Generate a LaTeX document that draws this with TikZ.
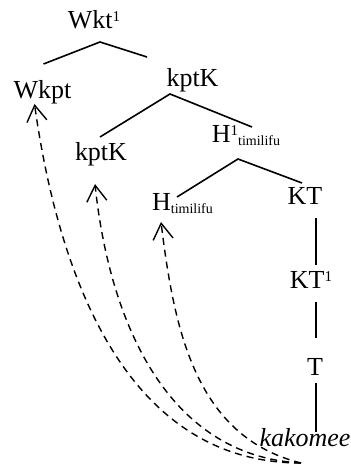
\documentclass[tikz,border=0pt]{standalone}
\usepackage{fontspec}
\setmainfont{Liberation Serif}
\usetikzlibrary{calc,arrows.meta}
\newcommand{\upidx}[1]{\raisebox{3.5pt}{\fontsize{7.5}{8}\selectfont #1}}
\newcommand{\lowidx}[1]{\raisebox{-1.5pt}{\fontsize{7}{8}\selectfont #1}}

\begin{document}
\begin{tikzpicture}[x=10pt,y=10pt,
        word/.style={anchor=base,inner sep=0pt,font=\fontsize{13}{15}\selectfont},
        branch/.style={line width=0.8pt},
        move/.style={line width=0.7pt,dash pattern=on 3.5pt off 2.5pt,-{Straight Barb[length=8pt,width=10pt]}}]
            \useasboundingbox (0,0) rectangle (17.55,23.3);
            \node[word] (wkt) at (4.7,21.85) {Wkt\upidx{1}};
            \node[word] (wkpt) at (2.125,18.35) {Wkpt};
            \node[word] (kptKa) at (9.625,18.95) {kptK};
            \node[word] (hone) at (12.3,16.15) {H\upidx{1}\lowidx{timilifu}};
            \node[word] (kptKb) at (5.05,15.25) {kptK};
            \node[word] (hzero) at (9.125,12.75) {H\lowidx{timilifu}};
            \node[word] (kt) at (15.25,13.05) {KT};
            \node[word] (ktone) at (15.55,8.85) {KT\upidx{1}};
            \node[word] (t) at (15.75,4.5) {T};
            \node[word,font=\fontsize{13}{15}\selectfont\itshape] (kakomee) at (15.25,0.95) {kakomee};
            \coordinate (src) at ($(kakomee.base)+(-0.2,-0.8)$);

            \draw[branch] ($(wkpt.base)+(0.05,1.75)$) -- ($(wkt.base)+(0.3,-0.65)$) -- ($(kptKa.base)+(-2.275,1.5)$);
            \draw[branch] ($(kptKb.base)+(-0.05,1.2)$) -- ($(kptKa.base)+(-1.125,-0.35)$) -- ($(hone.base)+(0.3,0.8)$);
            \draw[branch] ($(hzero.base)+(-0.275,0.7)$) -- ($(hone.base)+(-0.4,-0.8)$) -- ($(kt.base)+(-0.15,1.1)$);
            \draw[branch] ($(kt.base)+(0.55,-0.65)$) -- ($(ktone.base)+(0.25,1.2)$);
            \draw[branch] ($(ktone.base)+(0.25,-0.65)$) -- ($(t.base)+(0.05,1.9)$);
            \draw[branch] ($(t.base)+(0.05,-0.35)$) -- ($(kakomee.base)+(0.55,0.75)$);

            \draw[move] (src) to[out=180,in=-82] ($(wkpt.base)+(-0.4,-0.25)$);
            \draw[move] (src) to[out=177,in=-84] ($(kptKb.base)+(-0.3,-1.15)$);
            \draw[move] (src) to[out=166,in=-83] ($(hzero.base)+(-1.075,-0.55)$);
        \end{tikzpicture}
\end{document}
